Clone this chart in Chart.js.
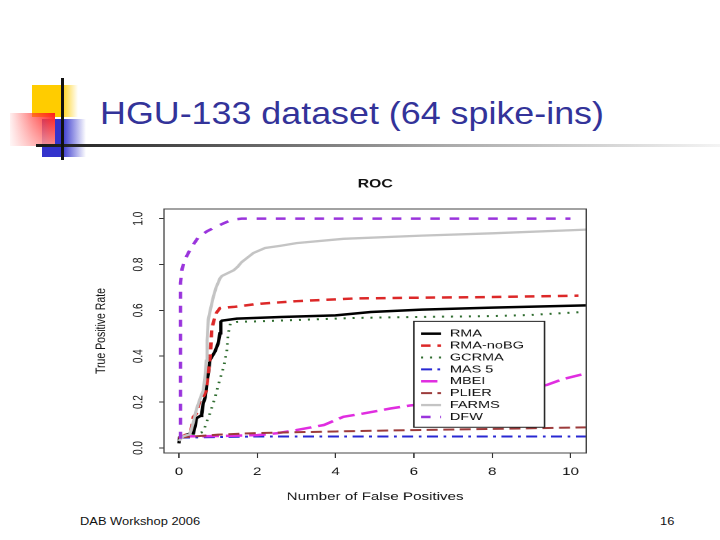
<!DOCTYPE html>
<html>
<head>
<meta charset="utf-8">
<script src="https://cdn.jsdelivr.net/npm/chart.js@4.4.0/dist/chart.umd.min.js"></script>
<style>
html,body{margin:0;padding:0;background:#fff;width:720px;height:540px;overflow:hidden;font-family:"Liberation Sans",Arial,sans-serif;}
.abs{position:absolute;}
#sqY{left:32px;top:85px;width:46px;height:32px;background:linear-gradient(to right,#FFCC00 0%,#FFCC00 62%,rgba(255,204,0,0) 100%);}
#sqB{left:42px;top:119px;width:44px;height:38px;background:linear-gradient(to right,#3333CC 0%,#3333CC 45%,rgba(51,51,204,0) 100%);}
#sqR{left:10px;top:113px;width:45px;height:33px;background:linear-gradient(to bottom,rgba(255,255,255,0) 0%,rgba(255,255,255,0.5) 100%),linear-gradient(to right,rgba(255,60,60,0.08) 0%,rgba(255,40,40,0.6) 50%,#FF1A1A 100%);}
#vl{left:61px;top:78px;width:2.5px;height:82px;background:#111;}
#hl{left:36px;top:144px;width:684px;height:3px;background:linear-gradient(to right,#1a1a1a 0%,#555 25%,#aaa 60%,#f4f4f4 100%);}
#title{left:100px;top:97px;font-size:32px;line-height:32px;color:#333399;white-space:nowrap;transform:scaleX(1.12);transform-origin:0 0;}
#foot{left:80px;top:516px;font-size:11.5px;line-height:11.5px;color:#111;white-space:nowrap;transform:scaleX(1.12);transform-origin:0 0;}
#pnum{left:660px;top:516px;font-size:11.5px;line-height:11.5px;color:#111;white-space:nowrap;transform:scaleX(1.12);transform-origin:0 0;}
#c{position:absolute;left:90px;top:170px;width:510px;height:340px;}
</style>
</head>
<body>
<div class="abs" id="sqY"></div>
<div class="abs" id="sqB"></div>
<div class="abs" id="sqR"></div>
<div class="abs" id="hl"></div>
<div class="abs" id="vl"></div>
<div class="abs" id="title">HGU-133 dataset (64 spike-ins)</div>
<div class="abs" id="foot">DAB Workshop 2006</div>
<div class="abs" id="pnum">16</div>
<canvas id="c" width="370" height="340" style="width:510px;height:340px"></canvas>
<script>
// ---- data ----
const seriesNames = ['RMA','RMA-noBG','GCRMA','MAS 5','MBEI','PLIER','FARMS','DFW'];
const xTickValues = [0,2,4,6,8,10];
const yTickValues = [0,0.2,0.4,0.6,0.8,1.0];

const rmaX = [0,0.02,0.3,0.37,0.41,0.45,0.55,0.58,0.62,0.67,0.71,0.75,0.79,0.92,1.0,1.05,1.07,1.1,1.48,2.6,4.0,4.9,6.2,8.0,10.4];
const rmaY = [0.02,0.046,0.064,0.064,0.093,0.13,0.14,0.145,0.194,0.22,0.28,0.325,0.383,0.42,0.455,0.5,0.55,0.555,0.564,0.571,0.578,0.593,0.603,0.612,0.622];

const noBgX = [0,0.3,0.37,0.45,0.54,0.6,0.7,0.8,0.84,0.9,0.96,1.05,1.4,2.0,3.0,4.5,6.0,8.0,10.2];
const noBgY = [0.04,0.07,0.136,0.15,0.209,0.215,0.25,0.4,0.52,0.56,0.59,0.61,0.615,0.628,0.64,0.652,0.655,0.658,0.664];

const gcrmaX = [0.35,0.62,0.7,0.79,0.92,1.05,1.15,1.22,1.26,1.32,1.5,2.0,3.0,4.5,6.0,8.0,9.0,10.3];
const gcrmaY = [0.055,0.07,0.11,0.15,0.22,0.3,0.36,0.42,0.5,0.545,0.55,0.552,0.558,0.567,0.571,0.575,0.58,0.593];

const mas5X = [0,2,5,10.4];
const mas5Y = [0.045,0.05,0.05,0.05];

const mbeiX = [0,1.0,2.0,2.5,3.0,3.7,4.2,4.7,5.4,5.9,7.0,8.0,9.0,9.4,9.8,10.4];
const mbeiY = [0.05,0.052,0.056,0.064,0.078,0.1,0.136,0.15,0.172,0.185,0.205,0.23,0.26,0.275,0.3,0.325];

const plierX = [0,1.0,2.0,4.0,6.0,8.0,10.4];
const plierY = [0.045,0.058,0.065,0.072,0.078,0.083,0.09];

const farmsX = [0,0.1,0.28,0.35,0.45,0.55,0.62,0.66,0.7,0.72,0.75,0.8,0.88,0.95,1.05,1.1,1.4,1.5,1.6,1.75,1.9,2.2,2.6,3.0,4.2,6.2,8.0,10.4];
const farmsY = [0.03,0.05,0.06,0.1,0.17,0.22,0.25,0.3,0.38,0.47,0.56,0.6,0.66,0.7,0.74,0.75,0.775,0.79,0.81,0.83,0.85,0.872,0.882,0.893,0.912,0.926,0.936,0.952];

const dfwX = [0.04,0.04,0.08,0.15,0.3,0.5,0.72,0.95,1.15,1.35,1.6,10.0];
const dfwY = [0.04,0.72,0.78,0.82,0.87,0.92,0.945,0.965,0.98,0.995,1.0,1.0];

const seriesX = [rmaX, noBgX, gcrmaX, mas5X, mbeiX, plierX, farmsX, dfwX];
const seriesY = [rmaY, noBgY, gcrmaY, mas5Y, mbeiY, plierY, farmsY, dfwY];

// ---- styles ----
const styles = [
  {color:'#000000', width:2.5, dash:[]},
  {color:'#DC2828', width:2.5, dash:[7,5]},
  {color:'#2D6B2D', width:2,   dash:[1.5,5]},
  {color:'#2828D2', width:2,   dash:[8,4,2,4]},
  {color:'#E02DE0', width:2.5, dash:[12,5]},
  {color:'#9C3B3B', width:2,   dash:[8,4]},
  {color:'#C4C4C4', width:2.3, dash:[]},
  {color:'#9A34DC', width:2.5, dash:[7,7]}
];

const datasets = seriesNames.map((name,i)=>({
  label: name,
  data: seriesX[i].map((x,j)=>({x:x, y:seriesY[i][j]})),
  borderColor: styles[i].color,
  backgroundColor: styles[i].color,
  borderWidth: styles[i].width,
  borderDash: styles[i].dash,
  pointRadius: 0,
  tension: 0,
  fill: false,
  order: seriesNames.length - i
}));

const framePlugin = {
  id:'frame',
  afterDatasetsDraw(chart){
    const {ctx, chartArea:a} = chart;
    ctx.save();
    ctx.strokeStyle = '#444';
    ctx.lineWidth = 1;
    ctx.strokeRect(a.left, a.top, a.right-a.left, a.bottom-a.top);
    ctx.restore();
  }
};

const rocTitlePlugin = {
  id:'rocTitle',
  afterDraw(chart, args, opts){
    const {ctx, chartArea:a} = chart;
    ctx.save();
    ctx.font = 'bold 11.5px "Liberation Sans", Arial, sans-serif';
    ctx.fillStyle = '#111';
    ctx.textAlign = 'center';
    ctx.textBaseline = 'middle';
    ctx.fillText(opts.text, (a.left+a.right)/2, opts.y);
    ctx.restore();
  }
};

const rLegendPlugin = {
  id:'rLegend',
  afterDraw(chart, args, opts){
    const {ctx} = chart;
    const xs = chart.scales.x, ys = chart.scales.y;
    const left = xs.getPixelForValue(opts.atX);
    const top = ys.getPixelForValue(opts.atY);
    ctx.save();
    ctx.font = opts.fontSize + 'px "Liberation Sans", Arial, sans-serif';
    const ds = chart.data.datasets;
    const tw = Math.max(...ds.map(d=>ctx.measureText(d.label).width));
    const w = opts.textX + tw + opts.padRight;
    const h = opts.rowH*ds.length + opts.padTop + opts.padBottom;
    ctx.fillStyle = '#fff';
    ctx.fillRect(left, top, w, h);
    ctx.strokeStyle = '#222';
    ctx.lineWidth = 1;
    ctx.strokeRect(left, top, w, h);
    ds.forEach((d,i)=>{
      const cy = top + opts.padTop + opts.rowH*(i+0.5);
      ctx.strokeStyle = d.borderColor;
      ctx.lineWidth = d.borderWidth;
      ctx.setLineDash(d.borderDash || []);
      ctx.beginPath();
      ctx.moveTo(left+opts.lineX0, cy);
      ctx.lineTo(left+opts.lineX1, cy);
      ctx.stroke();
      ctx.setLineDash([]);
      ctx.fillStyle = '#111';
      ctx.textAlign = 'left';
      ctx.textBaseline = 'middle';
      ctx.fillText(d.label, left+opts.textX, cy);
    });
    ctx.restore();
  }
};

new Chart(document.getElementById('c'), {
  type:'line',
  data:{datasets: datasets},
  plugins:[framePlugin, rocTitlePlugin, rLegendPlugin],
  options:{
    responsive:false,
    devicePixelRatio:2,
    animation:false,
    events:[],
    layout:{padding:{left:0,right:10,top:39,bottom:0}},
    plugins:{
      legend:{display:false},
      tooltip:{enabled:false},
      title:{display:false},
      rocTitle:{text:'ROC', y:14.4},
      rLegend:{atX:6.0, atY:0.552, fontSize:10.5, rowH:11.9, padTop:6.35, padBottom:4.35, lineX0:5.1, lineX1:19.6, textX:26.1, padRight:15}
    },
    scales:{
      x:{
        type:'linear', min:-0.38, max:10.4,
        afterBuildTicks: s => { s.ticks = xTickValues.map(v=>({value:v})); },
        afterFit: s => { s.height = 57; },
        grid:{drawOnChartArea:false, drawTicks:true, tickLength:5, color:'#333', lineWidth:1},
        border:{display:false},
        ticks:{padding:7.4, maxRotation:0, minRotation:0, color:'#111', font:{family:'"Liberation Sans", Arial, sans-serif', size:11}, callback:v=>String(v)},
        title:{display:true, text:'Number of False Positives', color:'#111', font:{family:'"Liberation Sans", Arial, sans-serif', size:11}, padding:{top:0,bottom:6.4}}
      },
      y:{
        type:'linear', min:-0.022, max:1.042,
        afterBuildTicks: s => { s.ticks = yTickValues.map(v=>({value:v})); },
        afterFit: s => { s.width = 53.7; },
        grid:{drawOnChartArea:false, drawTicks:true, tickLength:3.6, color:'#333', lineWidth:1},
        border:{display:false},
        ticks:{padding:8, minRotation:90, maxRotation:90, crossAlign:'center', color:'#111', font:{family:'"Liberation Sans", Arial, sans-serif', size:10}, callback:v=>v.toFixed(1)},
        title:{display:true, text:'True Positive Rate', color:'#111', font:{family:'"Liberation Sans", Arial, sans-serif', size:10.5}, padding:{top:1.7,bottom:0}}
      }
    }
  }
});
</script>
</body>
</html>
